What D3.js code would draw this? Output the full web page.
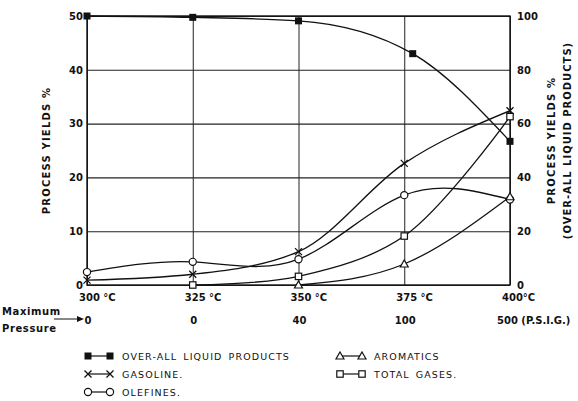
<!DOCTYPE html>
<html>
<head>
<meta charset="utf-8">
<script src="https://cdn.jsdelivr.net/npm/d3@7"></script>
<style>
  body { margin: 0; background: #fff; }
  text { font-family: "DejaVu Sans", sans-serif; font-weight: bold; fill: #111; }
</style>
</head>
<body>
<div id="chart"></div>
<script>
// temperatures and pressures along the bottom
const temps = [300, 325, 350, 375, 400]
const tempLabels = ['300 °C', '325 °C', '350 °C', '375 °C', '400°C']
const pressureLabels = ['0', '0', '40', '100', '500 (P.S.I.G.)']

// over-all liquid products, read against the right axis (0-100)
const liquidX = [300, 325, 350, 377, 400]
const liquidY = [100, 99.5, 98.2, 86, 53.4]

// the rest read against the left axis (0-50)
const gasolineX = [300, 325, 350, 375, 400]
const gasolineY = [0.9, 2.0, 6.2, 22.6, 32.4]
const olefinesX = [300, 325, 350, 375, 400]
const olefinesY = [2.4, 4.3, 4.8, 16.7, 15.9]
const gasesX = [325, 350, 375, 400]
const gasesY = [0, 1.6, 9.1, 31.3]
const aromaticsX = [350, 375, 400]
const aromaticsY = [0, 3.9, 16.4]

const leftTicks = [0, 10, 20, 30, 40, 50]
const rightTicks = [0, 20, 40, 60, 80, 100]

const width = 578, height = 401
const margin = { top: 16, right: 68, bottom: 116, left: 87 }
const innerW = width - margin.left - margin.right
const innerH = height - margin.top - margin.bottom

const svg = d3.select('#chart').append('svg')
  .attr('width', width)
  .attr('height', height)

const g = svg.append('g')
  .attr('transform', `translate(${margin.left},${margin.top})`)

const x = d3.scaleLinear().domain([300, 400]).range([0, innerW])
const yL = d3.scaleLinear().domain([0, 50]).range([innerH, 0])
const yR = d3.scaleLinear().domain([0, 100]).range([innerH, 0])

// grid - horizontal and vertical lines
const yGrid = d3.axisLeft(yL).tickValues(leftTicks).tickSize(-innerW).tickFormat('')
g.append('g').call(yGrid)
  .call(a => a.select('.domain').remove())
  .selectAll('line').attr('stroke', '#222').attr('stroke-width', 1.1)

const xGrid = d3.axisBottom(x).tickValues(temps).tickSize(-innerH).tickFormat('')
g.append('g').attr('transform', `translate(0,${innerH})`).call(xGrid)
  .call(a => a.select('.domain').remove())
  .selectAll('line').attr('stroke', '#222').attr('stroke-width', 1)

// frame
g.append('rect')
  .attr('width', innerW).attr('height', innerH)
  .attr('fill', 'none').attr('stroke', '#111').attr('stroke-width', 1.4)

// left tick labels
const leftAxis = g.append('g').call(d3.axisLeft(yL).tickValues(leftTicks).tickSize(0).tickPadding(4))
leftAxis.select('.domain').remove()
leftAxis.selectAll('text').style('font-size', '10px').style('font-family', 'DejaVu Sans').style('font-weight', 'bold')

const rightAxis = g.append('g').attr('transform', `translate(${innerW},0)`)
  .call(d3.axisRight(yR).tickValues(rightTicks).tickSize(0).tickPadding(7))
rightAxis.select('.domain').remove()
rightAxis.selectAll('text').style('font-size', '10px').style('font-family', 'DejaVu Sans').style('font-weight', 'bold')

// temperature labels
g.selectAll('.temp').data(temps).enter().append('text')
  .attr('class', 'temp')
  .attr('x', d => x(d) - 8)
  .attr('y', innerH + 16)
  .style('font-size', '10px')
  .text((d, i) => tempLabels[i])

// pressure row
g.selectAll('.press').data(temps).enter().append('text')
  .attr('class', 'press')
  .attr('x', (d, i) => i == temps.length - 1 ? x(d) - 13 : x(d) + 1)
  .attr('y', innerH + 39)
  .attr('text-anchor', (d, i) => i == temps.length - 1 ? 'start' : 'middle')
  .style('font-size', '10px')
  .text((d, i) => pressureLabels[i])

svg.append('text').attr('x', 2).attr('y', 315).style('font-size', '10px').style('letter-spacing', '0.6px').text('Maximum')
svg.append('text').attr('x', 2).attr('y', 332).style('font-size', '10px').style('letter-spacing', '0.6px').text('Pressure')
svg.append('line').attr('x1', 54).attr('x2', 78).attr('y1', 319).attr('y2', 319)
  .attr('stroke', '#111').attr('stroke-width', 1)
svg.append('path').attr('d', 'M77,316 L84,319 L77,322 Z').attr('fill', '#111')

// axis titles
svg.append('text')
  .attr('transform', `translate(50,${margin.top + innerH / 2}) rotate(-90)`)
  .attr('text-anchor', 'middle')
  .style('font-size', '10px').style('letter-spacing', '1.2px')
  .text('PROCESS  YIELDS %')
svg.append('text')
  .attr('transform', `translate(555,${margin.top + innerH / 2 - 10}) rotate(-90)`)
  .attr('text-anchor', 'middle')
  .style('font-size', '10px').style('letter-spacing', '1.2px')
  .text('PROCESS  YIELDS %')
svg.append('text')
  .attr('transform', `translate(571,${margin.top + innerH / 2 - 10}) rotate(-90)`)
  .attr('text-anchor', 'middle')
  .style('font-size', '10px').style('letter-spacing', '1px')
  .text('(OVER-ALL  LIQUID  PRODUCTS)')

// curves - smooth hand-drawn look
const series = [
  { name: 'liquid', xs: liquidX, ys: liquidY, y: yR, mark: 'fsquare', curve: d3.curveMonotoneX },
  { name: 'gasoline', xs: gasolineX, ys: gasolineY, y: yL, mark: 'cross', curve: d3.curveMonotoneX },
  { name: 'olefines', xs: olefinesX, ys: olefinesY, y: yL, mark: 'circle', curve: d3.curveNatural },
  { name: 'gases', xs: gasesX, ys: gasesY, y: yL, mark: 'square', curve: d3.curveCatmullRom.alpha(0.5) },
  { name: 'aromatics', xs: aromaticsX, ys: aromaticsY, y: yL, mark: 'triangle', curve: d3.curveNatural },
]

function drawMark(sel, mark, cx, cy) {
  if (mark === 'fsquare')
    sel.append('rect').attr('x', cx - 3.5).attr('y', cy - 3.5).attr('width', 7).attr('height', 7).attr('fill', '#111')
  else if (mark === 'square')
    sel.append('rect').attr('x', cx - 3.2).attr('y', cy - 3.2).attr('width', 6.4).attr('height', 6.4)
      .attr('fill', '#fff').attr('stroke', '#111').attr('stroke-width', 1.2)
  else if (mark === 'circle')
    sel.append('circle').attr('cx', cx).attr('cy', cy).attr('r', 3.6)
      .attr('fill', '#fff').attr('stroke', '#111').attr('stroke-width', 1.2)
  else if (mark === 'triangle')
    sel.append('path').attr('d', `M${cx},${cy - 4} L${cx + 4},${cy + 3} L${cx - 4},${cy + 3} Z`)
      .attr('fill', '#fff').attr('stroke', '#111').attr('stroke-width', 1.2)
  else if (mark === 'cross')
    sel.append('path').attr('d', `M${cx - 3.5},${cy - 3.5} L${cx + 3.5},${cy + 3.5} M${cx - 3.5},${cy + 3.5} L${cx + 3.5},${cy - 3.5}`)
      .attr('stroke', '#111').attr('stroke-width', 1.3)
}

series.forEach(s => {
  const pts = s.xs.map((d, i) => [x(d), s.y(s.ys[i])])
  g.append('path')
    .attr('d', d3.line().curve(s.curve)(pts))
    .attr('fill', 'none').attr('stroke', '#111').attr('stroke-width', 1.3)
  const mg = g.append('g')
  pts.forEach(p => drawMark(mg, s.mark, p[0], p[1]))
})

// legend
const legendItems = [
  { mark: 'fsquare', label: 'OVER-ALL  LIQUID  PRODUCTS', x: 88, y: 356 },
  { mark: 'cross', label: 'GASOLINE.', x: 88, y: 374 },
  { mark: 'circle', label: 'OLEFINES.', x: 88, y: 392 },
  { mark: 'triangle', label: 'AROMATICS', x: 340, y: 356 },
  { mark: 'square', label: 'TOTAL  GASES.', x: 340, y: 374 },
]
const lg = svg.append('g')
legendItems.forEach(d => {
  lg.append('line').attr('x1', d.x).attr('x2', d.x + 22).attr('y1', d.y).attr('y2', d.y)
    .attr('stroke', '#111').attr('stroke-width', 1.2)
  drawMark(lg, d.mark, d.x, d.y)
  drawMark(lg, d.mark, d.x + 22, d.y)
  lg.append('text').attr('x', d.x + 34).attr('y', d.y + 4)
    .style('font-size', '9.5px').style('font-weight', 'normal').style('letter-spacing', '1.1px')
    .style('word-spacing', '2px')
    .text(d.label)
})
</script>
</body>
</html>
